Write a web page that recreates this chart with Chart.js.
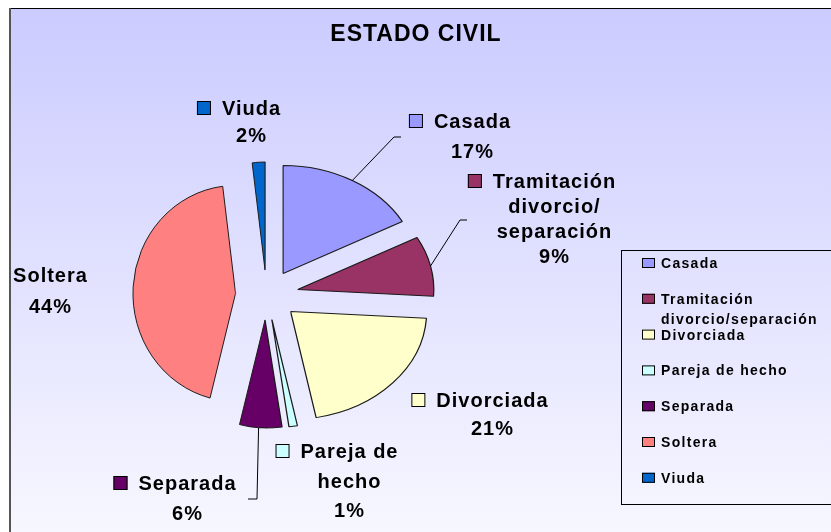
<!DOCTYPE html>
<html lang="es">
<head>
<meta charset="UTF-8">
<title>Estado civil</title>
<script src="https://cdn.jsdelivr.net/npm/chart.js"></script>
<style>
  html, body { margin: 0; padding: 0; background: #fff; }
  canvas { display: block; }
</style>
</head>
<body>
<canvas id="pieChart" width="831" height="532"></canvas>
<script>
// data
const categories = ['Casada', 'Tramitación divorcio/separación', 'Divorciada', 'Pareja de hecho', 'Separada', 'Soltera', 'Viuda'];
const percentages = [17, 9, 21, 1, 6, 44, 2];
const sliceColors = ['#9999FF', '#993366', '#FFFFCC', '#CCFFFF', '#660066', '#FF8080', '#0066CC'];

// how the names wrap beside the slices and in the legend
const sliceLabelLines = [['Casada'], ['Tramitación', 'divorcio/', 'separación'], ['Divorciada'], ['Pareja de', 'hecho'], ['Separada'], ['Soltera'], ['Viuda']];
const legendLines = [['Casada'], ['Tramitación', 'divorcio/separación'], ['Divorciada'], ['Pareja de hecho'], ['Separada'], ['Soltera'], ['Viuda']];

// label placement: text centre x, first baseline, line gap, show key square
const labelPlace = [
  [472, 128, 30, true],
  [554, 188, 25, true],
  [492, 407, 28, true],
  [349, 458, 29.5, true],
  [187, 490, 30, true],
  [50, 282, 31, false],
  [251, 115, 27, true]
];
// leader lines: slice index -> bend points after the slice edge
const leaders = { 0: [[394, 137], [401, 137]], 1: [[460, 220], [467, 220]], 4: [[257, 499], [248, 499]] };

const RADIUS = 108;
const EXPLODE = 25;      // px each slice is pulled out
const STRETCH_R = 1.26;  // the pie in the picture is wider than tall on its right side
const STRETCH_L = 0.95;  // and a little narrower on its left side

function apexOf(arc) {
  const mid = (arc.startAngle + arc.endAngle) / 2;
  return [arc.x + Math.cos(mid) * EXPLODE * STRETCH_R, arc.y + Math.sin(mid) * EXPLODE];
}

function outerPoint(arc, frac) {
  const a = arc.startAngle + (arc.endAngle - arc.startAngle) * frac;
  const [ax, ay] = apexOf(arc);
  const dx = Math.cos(a) * RADIUS;
  return [ax + dx * (dx >= 0 ? STRETCH_R : STRETCH_L), ay + Math.sin(a) * RADIUS];
}

const frame = {
  id: 'frame',
  beforeDraw(chart) {
    const ctx = chart.ctx;
    ctx.save();
    ctx.fillStyle = '#ffffff';
    ctx.fillRect(0, 0, chart.width, chart.height);
    const g = ctx.createLinearGradient(0, 8, 0, chart.height);
    g.addColorStop(0, '#CBCBFF');
    g.addColorStop(1, '#F7F7FF');
    ctx.fillStyle = g;
    ctx.fillRect(9, 8, chart.width - 9, chart.height - 8);
    ctx.fillStyle = '#000';
    ctx.fillRect(9, 8, chart.width - 9, 1);
    ctx.fillStyle = '#555';
    ctx.fillRect(9, 8, 2, chart.height - 8);

    ctx.fillStyle = '#000';
    ctx.font = 'bold 23px "Liberation Sans", Arial, sans-serif';
    ctx.letterSpacing = '1px';
    ctx.textAlign = 'center';
    ctx.textBaseline = 'alphabetic';
    ctx.fillText('ESTADO CIVIL', 416, 41);
    ctx.restore();
  },
  beforeDatasetsDraw(chart) {
    // exploded, stretched slices: each arc element is moved out and drawn
    // in two halves so the left and right sides can be widened differently
    const ctx = chart.ctx;
    chart.getDatasetMeta(0).data.forEach(arc => {
      const [ax, ay] = apexOf(arc);
      [[ax, chart.width - ax, STRETCH_R], [0, ax, STRETCH_L]].forEach(([x0, w, s]) => {
        ctx.save();
        ctx.beginPath();
        ctx.rect(x0, 0, w, chart.height);
        ctx.clip();
        ctx.translate(ax, ay);
        ctx.scale(s, 1);
        ctx.translate(-arc.x, -arc.y);
        arc.draw(ctx);
        ctx.restore();
      });
    });
    return false;
  },
  afterDraw(chart) {
    const ctx = chart.ctx;
    const arcs = chart.getDatasetMeta(0).data;
    const total = percentages.reduce((a, b) => a + b, 0);
    ctx.save();

    // leader lines
    ctx.strokeStyle = '#000';
    ctx.lineWidth = 1;
    Object.keys(leaders).forEach(k => {
      const p0 = outerPoint(arcs[k], 0.5);
      ctx.beginPath();
      ctx.moveTo(p0[0], p0[1]);
      leaders[k].forEach(p => ctx.lineTo(p[0], p[1]));
      ctx.stroke();
    });

    // slice labels
    ctx.font = 'bold 20px "Liberation Sans", Arial, sans-serif';
    ctx.letterSpacing = '1px';
    ctx.textBaseline = 'alphabetic';
    categories.forEach((name, i) => {
      const [cx, y0, gap, key] = labelPlace[i];
      const lines = sliceLabelLines[i].concat([Math.round(percentages[i] / total * 100) + '%']);
      ctx.fillStyle = '#000';
      ctx.textAlign = 'center';
      lines.forEach((s, j) => ctx.fillText(s, cx + 0.5, y0 + j * gap));
      if (key) {
        const w = ctx.measureText(lines[0]).width - 1;
        const left = cx - w / 2;
        ctx.fillStyle = sliceColors[i];
        ctx.fillRect(left - 25, y0 - 14, 14, 14);
        ctx.strokeStyle = '#000';
        ctx.strokeRect(left - 24.5, y0 - 13.5, 13, 13);
      }
    });

    // legend
    ctx.strokeStyle = '#000';
    ctx.strokeRect(621.5, 250.5, 240, 254);
    ctx.font = 'bold 14px "Liberation Sans", Arial, sans-serif';
    ctx.letterSpacing = '1.3px';
    ctx.textAlign = 'left';
    categories.forEach((name, i) => {
      const base = 268 + i * 35.8;
      ctx.fillStyle = sliceColors[i];
      ctx.fillRect(642, base - 10, 13, 10);
      ctx.strokeStyle = '#000';
      ctx.strokeRect(642.5, base - 9.5, 12, 9);
      ctx.fillStyle = '#000';
      legendLines[i].forEach((s, j) => ctx.fillText(s, 661, base + j * 20));
    });
    ctx.restore();
  }
};

new Chart(document.getElementById('pieChart').getContext('2d'), {
  type: 'pie',
  data: {
    labels: categories,
    datasets: [{
      data: percentages,
      backgroundColor: sliceColors,
      borderColor: '#1a1a1a',
      borderWidth: 1,
      hoverOffset: 0,
      clip: false
    }]
  },
  options: {
    responsive: false,
    animation: false,
    events: [],
    radius: RADIUS,
    layout: { padding: { left: 167, right: 464, top: 195, bottom: 137 } },
    plugins: {
      legend: { display: false },
      title: { display: false },
      tooltip: { enabled: false }
    }
  },
  plugins: [frame]
});
</script>
</body>
</html>
